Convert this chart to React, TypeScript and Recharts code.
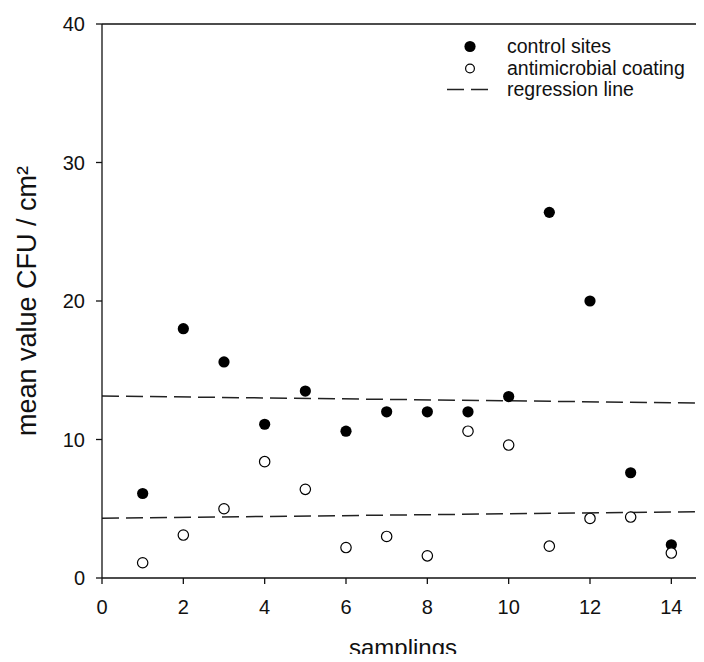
import {
  ComposedChart,
  Scatter,
  Line,
  XAxis,
  YAxis,
  ReferenceLine,
} from "recharts";

const samplings = [1, 2, 3, 4, 5, 6, 7, 8, 9, 10, 11, 12, 13, 14];
const controlSites = [6.1, 18.0, 15.6, 11.1, 13.5, 10.6, 12.0, 12.0, 12.0, 13.1, 26.4, 20.0, 7.6, 2.4];
const antimicrobial = [1.1, 3.1, 5.0, 8.4, 6.4, 2.2, 3.0, 1.6, 10.6, 9.6, 2.3, 4.3, 4.4, 1.8];

// regression line end points (x = 0 and x = 15)
const regX = [0, 15];
const regControl = [13.14, 12.62];
const regCoating = [4.31, 4.8];

const xTicks = [0, 2, 4, 6, 8, 10, 12, 14];
const yTicks = [0, 10, 20, 30, 40];

const controlData = samplings.map((x, i) => ({ x, y: controlSites[i] }));
const coatingData = samplings.map((x, i) => ({ x, y: antimicrobial[i] }));
const regControlData = regX.map((x, i) => ({ x, y: regControl[i] }));
const regCoatingData = regX.map((x, i) => ({ x, y: regCoating[i] }));

const FONT = "'Liberation Sans', Arial, sans-serif";

const FilledDot = (props: any) => (
  <circle cx={props.cx} cy={props.cy} r={5.6} fill="#000" />
);

const OpenDot = (props: any) => (
  <circle cx={props.cx} cy={props.cy} r={5.2} fill="#fff" stroke="#000" strokeWidth={1.2} />
);

const LegendBox = () => {
  const row = { display: "flex", alignItems: "center", height: 21.5 };
  const text = { fontFamily: FONT, fontSize: 19.5, color: "#111", lineHeight: "21px" };
  return (
    <div style={{ position: "absolute", left: 440, top: 36, width: 264 }}>
      <div style={row}>
        <svg width={67} height={21}>
          <circle cx={30} cy={10.5} r={5.6} fill="#000" />
        </svg>
        <span style={text}>control sites</span>
      </div>
      <div style={row}>
        <svg width={67} height={21}>
          <circle cx={30} cy={10.5} r={4.4} fill="#fff" stroke="#000" strokeWidth={1.2} />
        </svg>
        <span style={text}>antimicrobial coating</span>
      </div>
      <div style={row}>
        <svg width={67} height={21}>
          <line x1={7} y1={10.5} x2={48} y2={10.5} stroke="#222" strokeWidth={1.5} strokeDasharray="17 7" />
        </svg>
        <span style={text}>regression line</span>
      </div>
    </div>
  );
};

const YLabel = ({ viewBox }: any) => {
  const x = 27;
  const y = viewBox.y + viewBox.height / 2;
  return (
    <text
      x={x}
      y={y}
      transform={`rotate(-90, ${x}, ${y})`}
      textAnchor="middle"
      dominantBaseline="central"
      fontFamily={FONT}
      fontSize={27}
      fill="#111"
    >
      mean value CFU / cm²
    </text>
  );
};

const XLabel = () => (
  <text x={403} y={656} textAnchor="middle" fontFamily={FONT} fontSize={24} fill="#111">
    samplings
  </text>
);

export default function App() {
  const tick = { fontFamily: FONT, fontSize: 20, fill: "#111" };
  return (
    <div
      style={{
        position: "relative",
        width: 704,
        height: 662,
        overflow: "hidden",
        margin: -8,
        background: "#fff",
      }}
    >
      <ComposedChart width={712} height={662} margin={{ top: 24, right: 0, bottom: 0, left: 0 }}>
        <XAxis
          type="number"
          dataKey="x"
          domain={[0, 15]}
          ticks={xTicks}
          allowDataOverflow
          height={84}
          tickSize={6}
          tickMargin={16}
          tick={tick}
          stroke="#111"
          strokeWidth={1.3}
          label={{ content: XLabel }}
        />
        <YAxis
          type="number"
          dataKey="y"
          domain={[0, 40]}
          ticks={yTicks}
          width={102}
          tickSize={6}
          tickMargin={11}
          tick={tick}
          stroke="#111"
          strokeWidth={1.3}
          label={{ content: YLabel }}
        />
        <ReferenceLine y={40} stroke="#111" strokeWidth={1.3} />
        <Line
          data={regControlData}
          dataKey="y"
          type="linear"
          stroke="#222"
          strokeWidth={1.5}
          strokeDasharray="17 7"
          dot={false}
          activeDot={false}
          isAnimationActive={false}
        />
        <Line
          data={regCoatingData}
          dataKey="y"
          type="linear"
          stroke="#222"
          strokeWidth={1.5}
          strokeDasharray="17 7"
          dot={false}
          activeDot={false}
          isAnimationActive={false}
        />
        <Scatter data={controlData} dataKey="y" shape={FilledDot} isAnimationActive={false} />
        <Scatter data={coatingData} dataKey="y" shape={OpenDot} isAnimationActive={false} />
      </ComposedChart>
      <LegendBox />
    </div>
  );
}
